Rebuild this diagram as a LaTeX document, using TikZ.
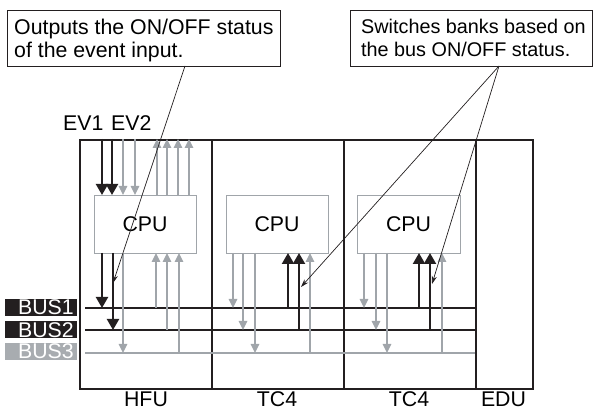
\documentclass[tikz,border=0pt]{standalone}
\usepackage{fontspec}
\setmainfont{Liberation Sans}
\usetikzlibrary{arrows.meta}
\definecolor{ink}{RGB}{35,31,32}
\definecolor{gr}{RGB}{160,165,170}
\definecolor{grlbl}{RGB}{168,172,176}
\begin{document}
\begin{tikzpicture}[x=1pt,y=-1pt,
  txt/.style={font=\fontsize{21.3}{24}\selectfont, inner sep=0pt},
  txtr/.style={font=\fontsize{19.8}{24}\selectfont, inner sep=0pt},
  section/.style={draw=ink, line width=2pt, inner sep=0pt, minimum height=249pt, anchor=north west},
  cpubox/.style={draw=gr, line width=0.9pt, fill=white, inner sep=0pt, minimum width=102pt, minimum height=58pt, font=\fontsize{21.3}{24}\selectfont},
  buslbl/.style={text=white, inner xsep=3pt, inner ysep=0pt, text width=66pt, align=right, minimum height=17pt, anchor=east, font=\fontsize{21.3}{20}\selectfont},
  busblk/.style={draw=ink, line width=2.4pt},
  busgr/.style={draw=gr, line width=1.4pt},
  blkar/.style={draw=ink, line width=2.2pt, -{Triangle[width=12pt,length=11pt]}},
  grar/.style={draw=gr, line width=1.4pt, -{Triangle[width=8.5pt,length=9pt]}},
  callout/.style={draw=ink, line width=0.9pt, fill=white, inner sep=0pt, anchor=north west},
  pointer/.style={draw=ink, line width=0.7pt, -{Stealth[length=8pt,width=5pt]}},
]
\useasboundingbox (0,0) rectangle (600,411);

% rack sections
\node[section, minimum width=132pt] (hfu) at (79,139) {};
\node[section, minimum width=132pt] (tca) at (211,139) {};
\node[section, minimum width=132pt] (tcb) at (343,139) {};
\node[section, minimum width=57pt] (edu) at (475,139) {};

\node[txt, anchor=base] (lhfu) at (146,407) {HFU};
\node[txt, anchor=base] (ltca) at (277,407) {TC4};
\node[txt, anchor=base] (ltcb) at (409,407) {TC4};
\node[txt, anchor=base] (ledu) at (503.5,407) {EDU};

% buses
\coordinate (b1w) at (85,308); \coordinate (b1e) at (475,308);
\coordinate (b2w) at (85,330); \coordinate (b2e) at (475,330);
\coordinate (b3w) at (85,353); \coordinate (b3e) at (475,353);
\draw[busblk] (b1w) -- (b1e);
\draw[busblk] (b2w) -- (b2e);
\draw[busgr] (b3w) -- (b3e);

\node[buslbl, fill=ink] (l1) at (77,307.5) {BUS1};
\node[buslbl, fill=ink] (l2) at (77,330) {BUS2};
\node[buslbl, fill=grlbl] (l3) at (77,351.5) {BUS3};

% CPUs
\node[cpubox] (hcpu) at (145,224) {CPU};
\node[cpubox] (acpu) at (277,224) {CPU};
\node[cpubox, minimum width=103pt] (bcpu) at (408.5,224) {CPU};

% event inputs
\node[txt, anchor=base west] (ev1) at (63,131) {EV1};
\node[txt, anchor=base west] (ev2) at (111,131) {EV2};

% HFU top arrows
\foreach \x in {102,112} \draw[blkar] (\x,139) -- (\x,195);
\foreach \x in {123,135} \draw[grar] (\x,139) -- (\x,195);
\foreach \x in {157,167,178,189} \draw[grar] (\x,195) -- (\x,139);

% HFU bottom arrows
\draw[blkar] (102,253) -- (102,308);
\draw[blkar] (113,253) -- (113,330);
\draw[grar] (123,253) -- (123,353);
\draw[grar] (156,308) -- (156,253);
\draw[grar] (167,330) -- (167,253);
\draw[grar] (179,353) -- (179,253);

% TC4 (1)
\draw[grar] (233,253) -- (233,308);
\draw[grar] (243,253) -- (243,330);
\draw[grar] (255,253) -- (255,353);
\draw[blkar] (288,308) -- (288,253);
\draw[blkar] (299,330) -- (299,253);
\draw[grar] (310,353) -- (310,253);

% TC4 (2)
\draw[grar] (364,253) -- (364,308);
\draw[grar] (376,253) -- (376,330);
\draw[grar] (387,253) -- (387,353);
\draw[blkar] (419,308) -- (419,253);
\draw[blkar] (430,330) -- (430,253);
\draw[grar] (442,353) -- (442,253);

% callouts
\node[callout, minimum width=273pt, minimum height=56pt] (c1) at (7,10) {};
\node[txt, anchor=base west] (c1a) at (14,35) {Outputs the ON/OFF status};
\node[txt, anchor=base west] (c1b) at (14,58) {of the event input.};

\node[callout, minimum width=242pt, minimum height=56pt] (c2) at (350,10) {};
\node[txtr, anchor=base west] (c2a) at (361,34) {Switches banks based on};
\node[txtr, anchor=base west] (c2b) at (361,57) {the bus ON/OFF status.};

\coordinate (p1) at (185,66);
\coordinate (t1) at (113,283);
\coordinate (p2) at (499,66);
\coordinate (t2) at (301,287);
\coordinate (t3) at (432,284);
\draw[pointer] (p1) -- (t1);
\draw[pointer] (p2) -- (t2);
\draw[pointer] (p2) -- (t3);
\end{tikzpicture}
\end{document}
